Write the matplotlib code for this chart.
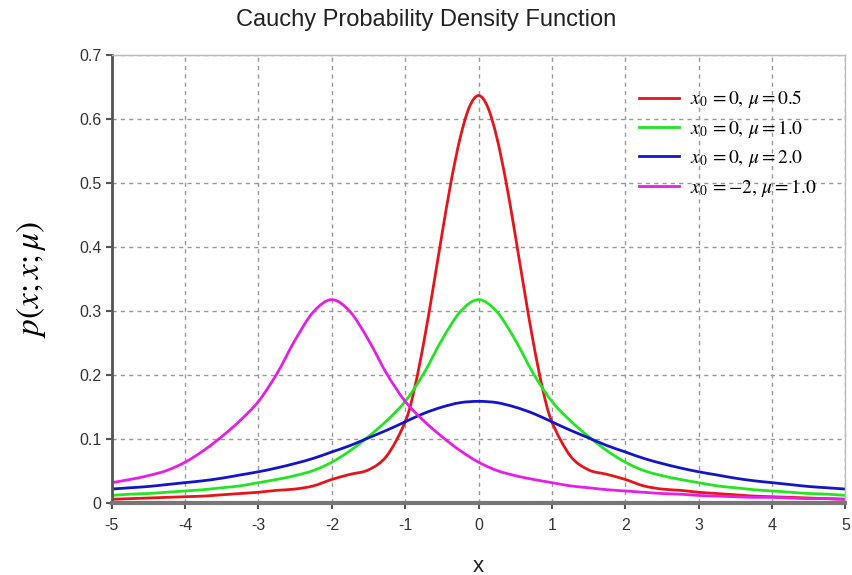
import numpy as np
import matplotlib.pyplot as plt
from matplotlib.path import Path
from matplotlib.patches import PathPatch
from matplotlib.lines import Line2D

plt.rcParams['mathtext.fontset'] = 'stix'
plt.rcParams['axes.unicode_minus'] = False

# values (step 0.25, red has extra points near its peak)
x = np.arange(-5, 5.001, 0.25)

red_x = [-5, -4.75, -4.5, -4.25, -4, -3.75, -3.5, -3.25, -3, -2.75, -2.5, -2.25,
         -2, -1.75, -1.5, -1.25, -1, -0.875, -0.75, -0.625, -0.5, -0.375, -0.25, -0.125,
         0, 0.125, 0.25, 0.375, 0.5, 0.625, 0.75, 0.875, 1, 1.25, 1.5, 1.75,
         2, 2.25, 2.5, 2.75, 3, 3.25, 3.5, 3.75, 4, 4.25, 4.5, 4.75, 5]
red_y = [0.006, 0.007, 0.008, 0.009, 0.010, 0.011, 0.013, 0.015, 0.017, 0.020, 0.022, 0.027,
         0.037, 0.045, 0.052, 0.074, 0.127, 0.178, 0.249, 0.332, 0.419, 0.502, 0.571, 0.619,
         0.637, 0.619, 0.571, 0.502, 0.419, 0.332, 0.249, 0.178, 0.127, 0.074, 0.052, 0.045,
         0.037, 0.027, 0.022, 0.020, 0.017, 0.015, 0.013, 0.011, 0.010, 0.009, 0.008, 0.007, 0.006]

green_y = [0.012, 0.014, 0.015, 0.017, 0.019, 0.021, 0.024, 0.027, 0.032, 0.037, 0.043, 0.051,
           0.064, 0.082, 0.104, 0.129, 0.159, 0.202, 0.255, 0.299, 0.318,
           0.299, 0.255, 0.202, 0.159, 0.129, 0.104, 0.082, 0.064, 0.051, 0.043, 0.037,
           0.032, 0.027, 0.024, 0.021, 0.019, 0.017, 0.015, 0.014, 0.012]

blue_y = [0.022, 0.024, 0.026, 0.029, 0.032, 0.035, 0.039, 0.044, 0.049, 0.055, 0.062, 0.070,
          0.080, 0.090, 0.102, 0.114, 0.127, 0.140, 0.150, 0.157, 0.159,
          0.157, 0.150, 0.140, 0.127, 0.114, 0.102, 0.090, 0.080, 0.070, 0.062, 0.055,
          0.049, 0.044, 0.039, 0.035, 0.032, 0.029, 0.026, 0.024, 0.022]

magenta_y = [0.032, 0.037, 0.043, 0.051, 0.064, 0.082, 0.104, 0.129, 0.159, 0.202, 0.255, 0.299,
             0.318, 0.299, 0.255, 0.202, 0.159, 0.129, 0.104, 0.082, 0.064, 0.051, 0.043, 0.037,
             0.032, 0.027, 0.024, 0.021, 0.019, 0.017, 0.015, 0.014, 0.012, 0.011, 0.010, 0.009,
             0.009, 0.008, 0.007, 0.007, 0.006]

labels = [r'$x_0\,=0,\,\mu=0.5$', r'$x_0\,=0,\,\mu=1.0$',
          r'$x_0\,=0,\,\mu=2.0$', r'$x_0\,=-2,\,\mu=1.0$']
colors = ['#e8141c', '#22e622', '#1414c8', '#e61ee6']


def smooth_line(ax, xs, ys, color):
    # smoothed line like a spreadsheet chart: cubic Bezier through every data point
    p = np.column_stack([xs, ys]).astype(float)
    verts = [p[0]]
    codes = [Path.MOVETO]
    n = len(p)
    for i in range(n - 1):
        p0 = p[max(i - 1, 0)]
        p3 = p[min(i + 2, n - 1)]
        verts += [p[i] + (p[i + 1] - p0) / 6, p[i + 1] - (p3 - p[i]) / 6, p[i + 1]]
        codes += [Path.CURVE4] * 3
    ax.add_patch(PathPatch(Path(verts, codes), fill=False, edgecolor=color, lw=2,
                           capstyle='round', joinstyle='round'))


fig = plt.figure(figsize=(8.53, 5.75), dpi=100)
ax = fig.add_axes([0.131, 0.125, 0.86, 0.779])

smooth_line(ax, red_x, red_y, colors[0])
smooth_line(ax, x, green_y, colors[1])
smooth_line(ax, x, blue_y, colors[2])
smooth_line(ax, x, magenta_y, colors[3])

ax.set_xlim(-5, 5)
ax.set_ylim(0, 0.7)
ax.set_xticks(range(-5, 6))
ax.set_yticks(np.arange(0, 0.71, 0.1))
ax.set_yticklabels(['0', '0.1', '0.2', '0.3', '0.4', '0.5', '0.6', '0.7'])
ax.grid(True, color='#999999', ls=(0, (3, 3)), lw=1)
ax.set_axisbelow(True)

for s in ['top', 'right']:
    ax.spines[s].set_color('#bbbbbb')
    ax.spines[s].set_linewidth(1)
ax.spines['left'].set_color('#555555')
ax.spines['left'].set_linewidth(2)
ax.spines['bottom'].set_color('#777777')
ax.spines['bottom'].set_linewidth(3)
ax.tick_params(axis='both', direction='out', length=4, width=1.5, color='#555555',
               labelsize=11.5, labelcolor='#333333', labelfontfamily='Liberation Sans')
ax.tick_params(axis='x', pad=7)

fig.text(0.5, 0.966, 'Cauchy Probability Density Function', fontsize=17,
         family='Liberation Sans', color='#222222', ha='center', va='center')
ax.set_xlabel('x', fontsize=16, family='Liberation Sans', color='#222222', labelpad=16)
ax.set_ylabel(r'$p(x;x;\mu)$', fontsize=24, labelpad=22)

handles = [Line2D([], [], color=c, lw=2) for c in colors]
ax.legend(handles, labels, loc='upper right', frameon=False, fontsize=14, handlelength=2.1,
          handletextpad=0.55, labelspacing=0.4, bbox_to_anchor=(0.985, 0.965))

fig.savefig('out.png', dpi=100)
